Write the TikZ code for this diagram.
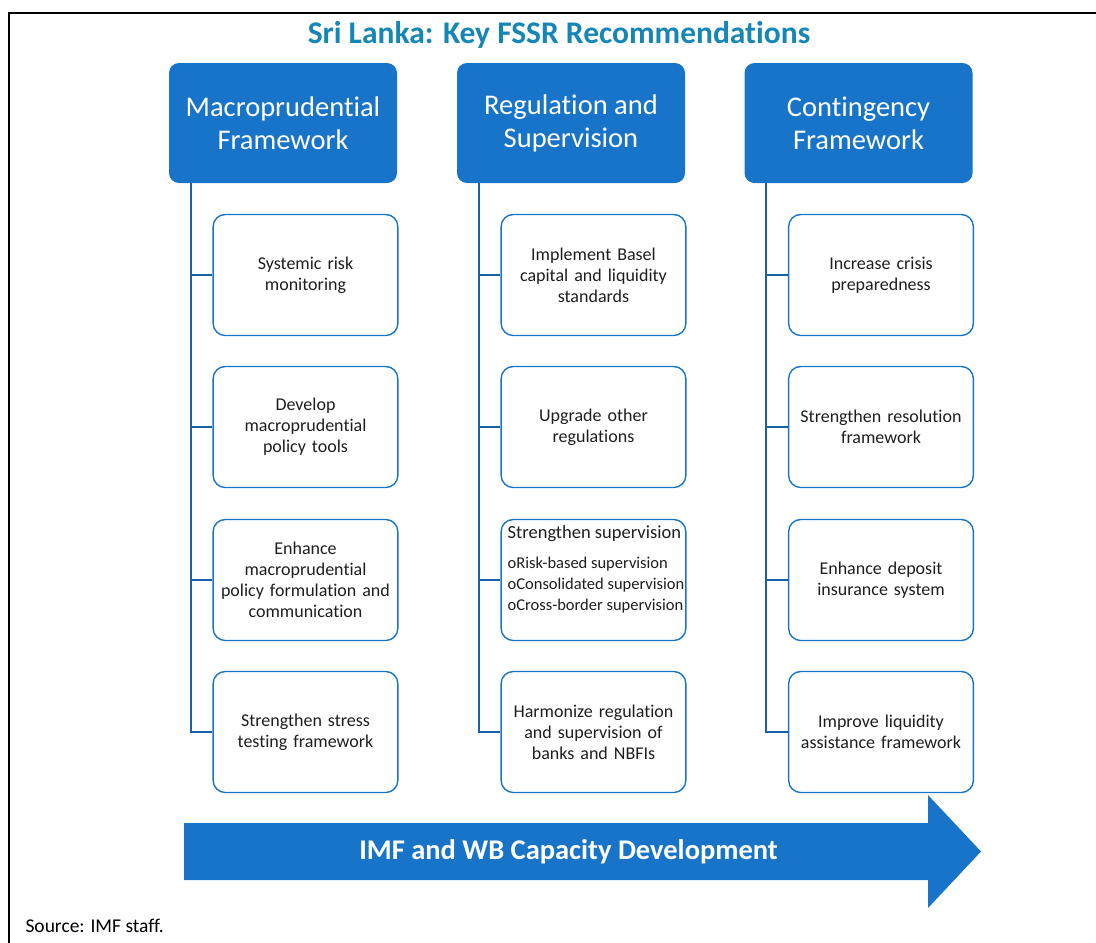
\documentclass[tikz,border=0pt]{standalone}
\usepackage{fontspec}
\setmainfont{Carlito}[Ligatures=NoCommon]
\usetikzlibrary{calc,positioning}
\definecolor{imfblue}{RGB}{24,116,200}
\definecolor{titleteal}{RGB}{21,134,181}
\definecolor{linkblue}{RGB}{25,95,170}
\definecolor{textgray}{RGB}{30,30,30}
\newcommand{\bulletfont}{\fontsize{16.5}{21.5}\selectfont}

\begin{document}
\begin{tikzpicture}[x=1pt,y=-1pt,
    topbox/.style={rectangle,rounded corners=10pt,fill=imfblue,text=white,
        minimum width=228pt,minimum height=120pt,align=center,
        font=\fontsize{28.5}{33}\selectfont},
    subbox/.style={rectangle,rounded corners=12pt,draw=imfblue,line width=1.4pt,
        minimum width=184pt,minimum height=121pt,text width=178pt,align=center,
        text=textgray,font=\fontsize{18}{21}\selectfont},
    link/.style={draw=linkblue,line width=1.8pt},
]
    \useasboundingbox (0,0) rectangle (1096,943);

    % frame, only top and left edges are visible
    \draw [line width=2pt] (9,943) -- (9,12.5) -- (1096,12.5);

    \node [text=titleteal,font=\bfseries\fontsize{31.5}{36}\selectfont] (title) at (559,35)
        {Sri Lanka: Key FSSR Recommendations};

    % column heads
    \node [topbox] (mac) at (283,123)   {Macroprudential\\Framework};
    \node [topbox] (reg) at (571,123)   {Regulation and\\Supervision};
    \node [topbox] (con) at (858.5,123) {Contingency\\Framework};

    % macroprudential
    \node [subbox] (m1) at (305.5,275) {Systemic risk\\monitoring};
    \node [subbox] (m2) at (305.5,427) {Develop\\macroprudential\\policy tools};
    \node [subbox] (m3) at (305.5,580) {Enhance\\macroprudential\\policy formulation and\\communication};
    \node [subbox] (m4) at (305.5,732) {Strengthen stress\\testing framework};

    % regulation and supervision
    \node [subbox] (r1) at (593.5,275) {Implement Basel\\capital and liquidity\\standards};
    \node [subbox] (r2) at (593.5,427) {Upgrade other\\regulations};
    \node [subbox] (r3) at (593.5,580) {};
    \node [anchor=north west,align=left,text=textgray,inner sep=0pt,
        font=\fontsize{18.5}{21}\selectfont] (r3t) at ($(r3.north west)+(7,7)$)
        {Strengthen supervision\\[9pt]
         \bulletfont oRisk-based supervision\\
         \bulletfont oConsolidated supervision\\
         \bulletfont oCross-border supervision};
    \node [subbox] (r4) at (593.5,732) {Harmonize regulation\\and supervision of\\banks and NBFIs};

    % contingency
    \node [subbox] (c1) at (881,275) {Increase crisis\\preparedness};
    \node [subbox] (c2) at (881,427) {Strengthen resolution\\framework};
    \node [subbox] (c3) at (881,580) {Enhance deposit\\insurance system};
    \node [subbox] (c4) at (881,732) {Improve liquidity\\assistance framework};

    % tree lines
    \coordinate (macl) at ($(mac.south west)+(22,0)$);
    \coordinate (regl) at ($(reg.south west)+(22,0)$);
    \coordinate (conl) at ($(con.south west)+(22,0)$);
    \draw [link] (macl) |- (m4.west);
    \draw [link] (regl) |- (r4.west);
    \draw [link] (conl) |- (c4.west);
    \foreach \i in {1,2,3} {
        \draw [link] (macl |- m\i.west) -- (m\i.west);
        \draw [link] (regl |- r\i.west) -- (r\i.west);
        \draw [link] (conl |- c\i.west) -- (c\i.west);
    }

    % capacity development arrow
    \fill [imfblue] (184,823) -- (928,823) -- (928,795) -- (981,851.5)
        -- (928,908) -- (928,880) -- (184,880) -- cycle;
    \node [text=white,font=\bfseries\fontsize{28.5}{32}\selectfont] (cd) at (568.5,852)
        {IMF and WB Capacity Development};

    \node [anchor=west,font=\fontsize{19.5}{22}\selectfont] (src) at (22,926) {Source: IMF staff.};
\end{tikzpicture}
\end{document}
